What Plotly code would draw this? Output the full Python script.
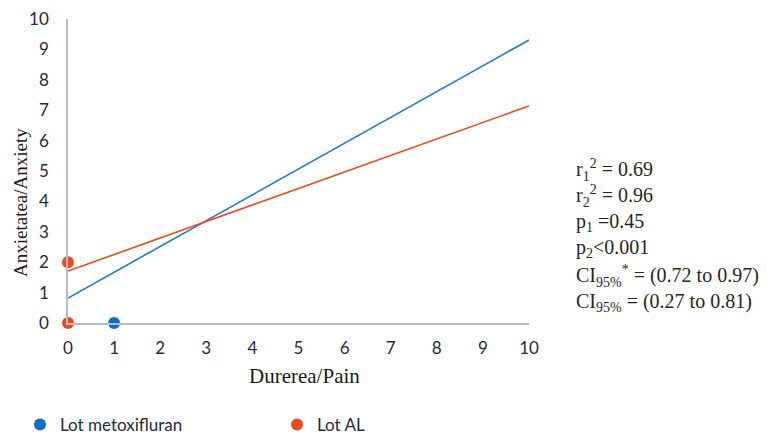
import plotly.graph_objects as go

# Data
blue_points_x = [1]
blue_points_y = [0]
orange_points_x = [0, 0]
orange_points_y = [0, 2]
line_x = [0, 10]
blue_line_y = [0.82, 9.31]
orange_line_y = [1.71, 7.14]
stats_lines = [
    "r<sub>1</sub><sup>2</sup> = 0.69",
    "r<sub>2</sub><sup>2</sup> = 0.96",
    "p<sub>1</sub> =0.45",
    "p<sub>2</sub><0.001",
    "CI<sub>95%</sub><sup>*</sup> = (0.72 to 0.97)",
    "CI<sub>95%</sub> = (0.27 to 0.81)",
]
stats_y_px = [170, 196, 222, 248, 276, 302]

BLUE = "#0F6EBF"
BLUE_LINE = "#1C7DC6"
ORANGE = "#EE4A1E"
ORANGE_LINE = "#EE4A1E"

OFF = 8  # default page body margin
W, H = 767 - OFF, 435 - OFF
L = 68 - OFF
T = 19 - OFF
R = W - (529 - OFF)
B = H - (323 - OFF)
plot_w = W - L - R
plot_h = H - T - B

def px_x(p):
    return (p - OFF - L) / plot_w

def px_y(p):
    return (H - B - (p - OFF)) / plot_h

fig = go.Figure()
fig.add_trace(go.Scatter(x=line_x, y=blue_line_y, mode="lines",
                         line=dict(color=BLUE_LINE, width=1.6), showlegend=False, hoverinfo="skip"))
fig.add_trace(go.Scatter(x=line_x, y=orange_line_y, mode="lines",
                         line=dict(color=ORANGE_LINE, width=1.6), showlegend=False, hoverinfo="skip"))
fig.add_trace(go.Scatter(x=blue_points_x, y=blue_points_y, mode="markers", name="Lot metoxifluran",
                         marker=dict(color=BLUE, size=12), cliponaxis=False, legend="legend"))
fig.add_trace(go.Scatter(x=orange_points_x, y=orange_points_y, mode="markers", name="Lot AL",
                         marker=dict(color=ORANGE, size=12), cliponaxis=False, legend="legend2"))

for txt, ypx in zip(stats_lines, stats_y_px):
    fig.add_annotation(text=txt, xref="paper", yref="paper",
                       x=px_x(574), y=px_y(ypx),
                       xanchor="left", yanchor="middle", showarrow=False,
                       font=dict(family="Liberation Serif", size=20, color="#262626"))

title_font = dict(family="Liberation Serif", color="#1a1a1a")
fig.add_annotation(text="Durerea/Pain", xref="paper", yref="paper",
                   x=px_x(304), y=px_y(376), xanchor="center", yanchor="middle",
                   showarrow=False, font=dict(size=21, **title_font))
fig.add_annotation(text="Anxietatea/Anxiety", xref="paper", yref="paper",
                   x=px_x(20), y=px_y(203), xanchor="center", yanchor="middle",
                   textangle=-90, showarrow=False, font=dict(size=19, **title_font))

axis_common = dict(range=[0, 10], dtick=1, showgrid=False, zeroline=False,
                   showline=True, linecolor="#B4BFCE", linewidth=1.5,
                   tickfont=dict(family="Lato", size=17, color="#1F2A3A"),
                   ticks="", fixedrange=True, automargin=False,
                   ticklabeloverflow="allow")

fig.update_xaxes(**axis_common, ticklabelstandoff=9)
fig.update_yaxes(**axis_common, ticklabelstandoff=14)

legend_common = dict(orientation="h", xanchor="left", yanchor="middle",
                     font=dict(family="Lato", size=17, color="#1F2A3A"),
                     itemsizing="constant", bgcolor="rgba(0,0,0,0)")

fig.update_layout(
    width=W, height=H,
    margin=dict(l=L, r=R, t=T, b=B, autoexpand=False),
    plot_bgcolor="white", paper_bgcolor="white",
    legend=dict(x=px_x(20), y=px_y(425), **legend_common),
    legend2=dict(x=px_x(277), y=px_y(425), **legend_common),
)

fig.write_html("out.html")
